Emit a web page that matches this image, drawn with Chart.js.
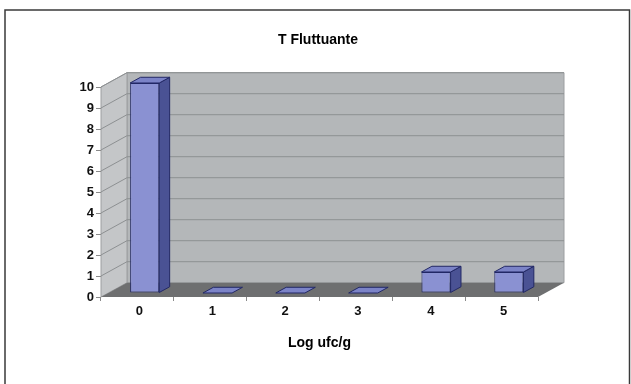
<!DOCTYPE html>
<html>
<head>
<meta charset="utf-8">
<script src="https://cdn.jsdelivr.net/npm/chart.js@4.4.1/dist/chart.umd.min.js"></script>
<style>
  html, body { margin: 0; padding: 0; background: #ffffff; }
  #chart { display: block; }
</style>
</head>
<body>
<canvas id="chart" width="631" height="384"></canvas>
<script>
// Categories (log ufc/g classes) and counts per class
const categories = ['0', '1', '2', '3', '4', '5'];
const counts = [10, 0, 0, 0, 1, 1];
const yTickValues = [0, 1, 2, 3, 4, 5, 6, 7, 8, 9, 10];
const chartTitle = 'T Fluttuante';
const xAxisTitle = 'Log ufc/g';

// Perspective offset from the front plane to the back wall
const DEPTH = { dx: 26, dy: -14.3 };
// Bar slab position inside the depth (fraction of DEPTH)
const BAR_FRONT = 0.28;
const BAR_THICK = 0.40;

const COLORS = {
  backWall: '#b4b7b9',
  sideWall: '#c4c6c8',
  floor: '#6e6f70',
  grid: '#8d9092',
  wallEdge: '#9c9ea0',
  barFront: '#8a91d2',
  barTop: '#7b83c7',
  barSide: '#4a5294',
  barEdge: '#222865',
  tick: '#8a8a8a',
  frame: '#3a3a3a'
};

function poly(ctx, pts, fill, stroke, lw) {
  ctx.beginPath();
  ctx.moveTo(pts[0][0], pts[0][1]);
  for (let i = 1; i < pts.length; i++) ctx.lineTo(pts[i][0], pts[i][1]);
  ctx.closePath();
  if (fill) { ctx.fillStyle = fill; ctx.fill(); }
  if (stroke) { ctx.strokeStyle = stroke; ctx.lineWidth = lw || 1; ctx.stroke(); }
}

// Walls, floor and wall gridlines behind the bars
const wallsPlugin = {
  id: 'walls3d',
  beforeDraw(chart) {
    const { ctx, chartArea: a, scales: { y } } = chart;
    const { dx, dy } = DEPTH;
    const yBase = y.getPixelForValue(yTickValues[0]);
    const yTop = y.getPixelForValue(yTickValues[yTickValues.length - 1]);
    ctx.save();
    // outer frame
    ctx.strokeStyle = COLORS.frame;
    ctx.lineWidth = 1.5;
    ctx.strokeRect(5, 10, 624.5, 420);

    // back wall
    poly(ctx, [[a.left + dx, yTop + dy], [a.right + dx, yTop + dy],
               [a.right + dx, yBase + dy], [a.left + dx, yBase + dy]],
         COLORS.backWall, COLORS.wallEdge, 1);
    // side wall
    poly(ctx, [[a.left, yTop], [a.left + dx, yTop + dy],
               [a.left + dx, yBase + dy], [a.left, yBase]],
         COLORS.sideWall, COLORS.wallEdge, 1);

    // gridlines on back and side walls
    ctx.strokeStyle = COLORS.grid;
    ctx.lineWidth = 1;
    yTickValues.forEach(v => {
      if (v === yTickValues[0]) return;
      const py = y.getPixelForValue(v);
      ctx.beginPath();
      ctx.moveTo(a.left, py);
      ctx.lineTo(a.left + dx, py + dy);
      ctx.lineTo(a.right + dx, py + dy);
      ctx.stroke();
    });

    // floor
    poly(ctx, [[a.left, yBase], [a.right, yBase],
               [a.right + dx, yBase + dy], [a.left + dx, yBase + dy]],
         COLORS.floor, null);
    ctx.restore();
  }
};

// Bars sit inside the depth; add their top and side faces
const barSlabPlugin = {
  id: 'barSlab',
  beforeDatasetsDraw(chart) {
    const ctx = chart.ctx;
    ctx.save();
    ctx.translate(DEPTH.dx * BAR_FRONT, DEPTH.dy * BAR_FRONT);
  },
  afterDatasetsDraw(chart) {
    const ctx = chart.ctx;
    const ddx = DEPTH.dx * BAR_THICK, ddy = DEPTH.dy * BAR_THICK;
    chart.getDatasetMeta(0).data.forEach(bar => {
      const { x, y, base, width } = bar.getProps(['x', 'y', 'base', 'width'], true);
      const l = x - width / 2, r = x + width / 2;
      // side face
      if (base - y > 0.5) {
        poly(ctx, [[r, y], [r + ddx, y + ddy], [r + ddx, base + ddy], [r, base]],
             COLORS.barSide, COLORS.barEdge, 1);
      }
      // top face
      poly(ctx, [[l, y], [r, y], [r + ddx, y + ddy], [l + ddx, y + ddy]],
           COLORS.barTop, COLORS.barEdge, 1);
    });
    ctx.restore();
  }
};

const FONT = 'Liberation Sans, Arial, sans-serif';

new Chart(document.getElementById('chart'), {
  type: 'bar',
  data: {
    labels: categories,
    datasets: [{
      data: counts,
      backgroundColor: COLORS.barFront,
      borderColor: COLORS.barEdge,
      borderWidth: 1,
      borderSkipped: false,
      barPercentage: 0.4,
      categoryPercentage: 1.0,
      yAxisID: 'y'
    }]
  },
  options: {
    responsive: false,
    animation: false,
    layout: { padding: { left: 5, right: 0, top: 0, bottom: 0 } },
    plugins: {
      legend: { display: false },
      tooltip: { enabled: false },
      title: {
        display: true,
        text: chartTitle,
        color: '#000',
        font: { family: FONT, size: 14, weight: 'bold' },
        padding: { top: 31.6, bottom: 38.6 }
      }
    },
    scales: {
      x: {
        grid: { display: true, drawOnChartArea: false, offset: true, tickLength: 4, color: COLORS.tick, tickColor: COLORS.tick },
        border: { display: false },
        ticks: {
          color: '#111',
          font: { family: FONT, size: 13, weight: 'bold' },
          padding: 3,
          labelOffset: 2
        },
        title: {
          display: true,
          text: xAxisTitle,
          color: '#000',
          font: { family: FONT, size: 14, weight: 'bold' },
          padding: { top: 0, bottom: 32 }
        },
        afterFit(scale) { scale.height = 87; }
      },
      y: {
        position: 'left',
        min: yTickValues[0],
        max: yTickValues[yTickValues.length - 1],
        grid: { display: true, drawOnChartArea: false, tickLength: 5, color: COLORS.tick, tickColor: COLORS.tick },
        border: { display: false },
        ticks: {
          stepSize: 1,
          color: '#111',
          font: { family: FONT, size: 13, weight: 'bold' },
          padding: 2
        },
        afterFit(scale) { scale.width = 96; }
      },
      // empty right-hand margin axis (leaves room for the wall depth)
      margin: {
        position: 'right',
        display: true,
        grid: { display: false },
        border: { display: false },
        ticks: { display: false },
        afterFit(scale) { scale.width = 93; }
      }
    }
  },
  plugins: [wallsPlugin, barSlabPlugin]
});
</script>
</body>
</html>
